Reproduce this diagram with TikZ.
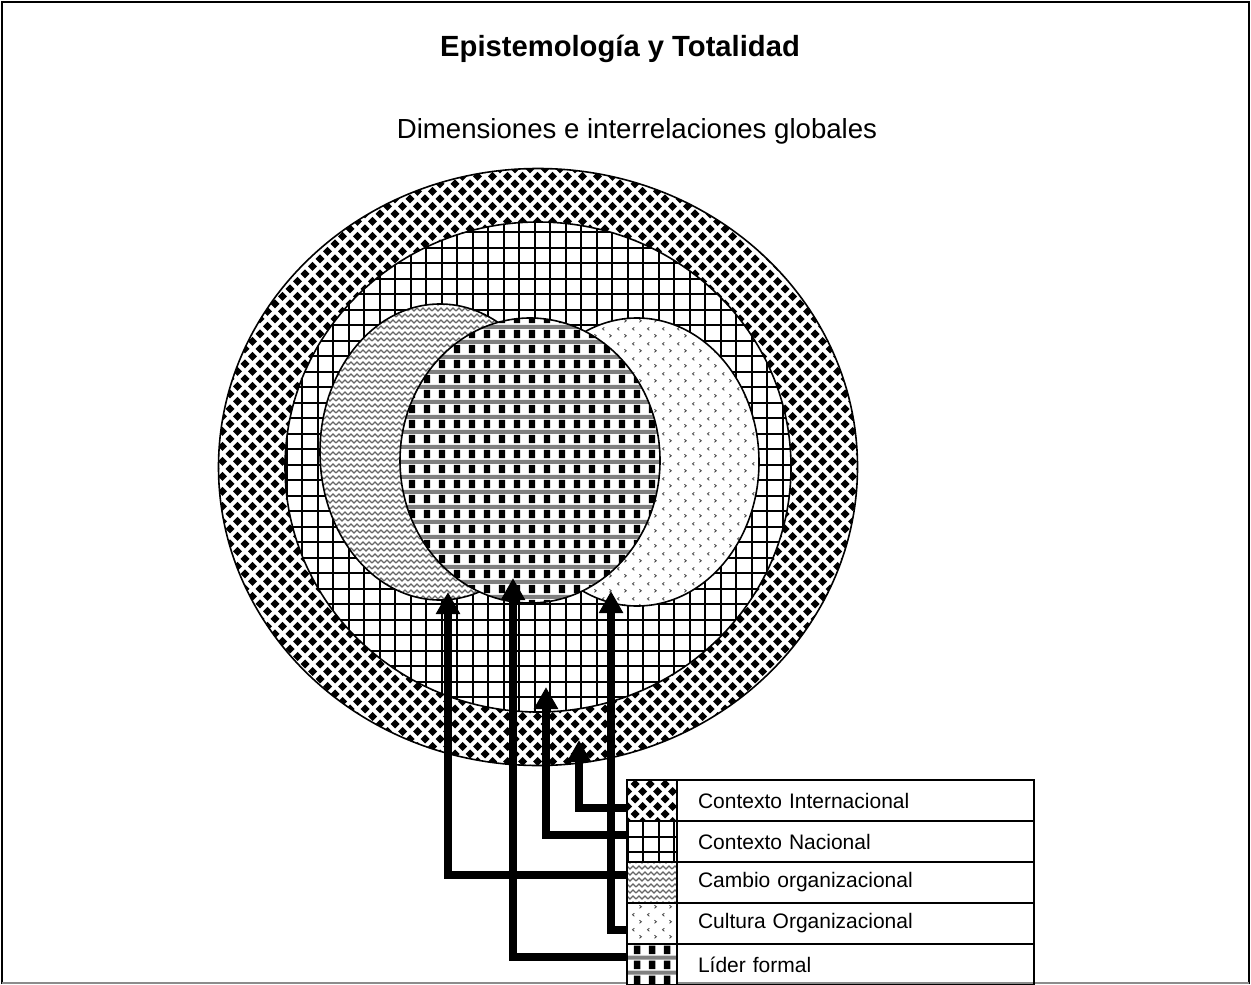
\documentclass[tikz,border=0pt]{standalone}
\usepackage{fontspec}
\setmainfont{Liberation Sans}
\usetikzlibrary{positioning, arrows.meta, patterns, shapes.geometric}

% fill patterns of the five dimensions
\pgfdeclarepatternformonly{intlpat}{\pgfpointorigin}{\pgfpoint{8.75pt}{8.75pt}}{\pgfpoint{7.5pt}{7.5pt}}{%
  \pgfpathmoveto{\pgfpoint{2.5pt}{0.25pt}}\pgfpathlineto{\pgfpoint{4.75pt}{2.5pt}}%
  \pgfpathlineto{\pgfpoint{2.5pt}{4.75pt}}\pgfpathlineto{\pgfpoint{0.25pt}{2.5pt}}\pgfpathclose
  \pgfpathmoveto{\pgfpoint{6.25pt}{4pt}}\pgfpathlineto{\pgfpoint{8.5pt}{6.25pt}}%
  \pgfpathlineto{\pgfpoint{6.25pt}{8.5pt}}\pgfpathlineto{\pgfpoint{4pt}{6.25pt}}\pgfpathclose
  \pgfusepath{fill}}
\pgfdeclarepatternformonly{nacpat}{\pgfpoint{-0.5pt}{-0.5pt}}{\pgfpoint{8.25pt}{8.25pt}}{\pgfpoint{7.75pt}{7.75pt}}{%
  \pgfsetlinewidth{0.9pt}
  \pgfpathmoveto{\pgfpoint{3.875pt}{-0.5pt}}\pgfpathlineto{\pgfpoint{3.875pt}{8.25pt}}
  \pgfpathmoveto{\pgfpoint{-0.5pt}{3.875pt}}\pgfpathlineto{\pgfpoint{8.25pt}{3.875pt}}
  \pgfusepath{stroke}}
\pgfdeclarepatterninherentlycolored{cambiopat}{\pgfpoint{-0.5pt}{-0.5pt}}{\pgfpoint{6.5pt}{3.5pt}}{\pgfpoint{6pt}{3pt}}{%
  \pgfsetstrokecolor{black!60}\pgfsetlinewidth{0.6pt}
  \pgfpathmoveto{\pgfpoint{0pt}{0.5pt}}\pgfpathlineto{\pgfpoint{1.5pt}{2pt}}
  \pgfpathlineto{\pgfpoint{3pt}{0.5pt}}\pgfpathlineto{\pgfpoint{4.5pt}{2pt}}
  \pgfpathlineto{\pgfpoint{6pt}{0.5pt}}
  \pgfusepath{stroke}}
\pgfdeclarepatterninherentlycolored{culturapat}{\pgfpointorigin}{\pgfpoint{7.5pt}{7.5pt}}{\pgfpoint{7.5pt}{7.5pt}}{%
  \pgfsetstrokecolor{black!70}\pgfsetlinewidth{0.45pt}
  \pgfpathmoveto{\pgfpoint{2.3pt}{6.2pt}}\pgfpathlineto{\pgfpoint{1.3pt}{5.4pt}}\pgfpathlineto{\pgfpoint{2.3pt}{4.6pt}}
  \pgfpathmoveto{\pgfpoint{5pt}{2.5pt}}\pgfpathlineto{\pgfpoint{6pt}{1.7pt}}\pgfpathlineto{\pgfpoint{5pt}{0.9pt}}
  \pgfusepath{stroke}}
\pgfdeclarepatterninherentlycolored{liderpat}{\pgfpointorigin}{\pgfpoint{7.5pt}{7.5pt}}{\pgfpoint{7.5pt}{7.5pt}}{%
  \pgfsetfillcolor{black!50}
  \pgfpathrectangle{\pgfpoint{0pt}{5.4pt}}{\pgfpoint{7.5pt}{2.1pt}}\pgfusepath{fill}
  \pgfsetfillcolor{black}
  \pgfpathrectangle{\pgfpoint{2pt}{0.5pt}}{\pgfpoint{3.4pt}{4.4pt}}\pgfusepath{fill}}

\begin{document}
\begin{tikzpicture}[x=0.5pt, y=-0.5pt,
    circ/.style={ellipse, inner sep=0pt, outer sep=0pt},
    intlfill/.style={draw, line width=0.8pt, preaction={fill=white}, pattern=intlpat},
    nacfill/.style={draw, line width=0.8pt, preaction={fill=white}, pattern=nacpat},
    cambiofill/.style={draw, line width=0.8pt, preaction={fill=white}, pattern=cambiopat},
    culturafill/.style={draw, line width=0.8pt, preaction={fill=white}, pattern=culturapat},
    liderfill/.style={draw, line width=0.8pt, preaction={fill=white}, pattern=liderpat},
    legbox/.style={draw, line width=0.8pt, minimum height=20.5pt, inner sep=0pt, outer sep=0pt,
      font=\fontsize{10.5}{12}\selectfont},
    swatch/.style={legbox, minimum width=25pt},
    leglabel/.style={legbox, text width=157.5pt, inner xsep=10.5pt, align=left},
    conn/.style={line width=3.6pt, -{Triangle[length=11pt, width=11.5pt]}}]
  \useasboundingbox (0,0) rectangle (1251,984);
  \draw[line width=1pt] (2,984) -- (2,2) -- (1249,2) -- (1249,984);
  \draw[black!45, line width=0.6pt] (2,983) -- (1249,983);

  \node[font=\fontsize{14.6}{17}\selectfont\bfseries, anchor=base] (title) at (620,57) {Epistemología y Totalidad};
  \node[font=\fontsize{13.8}{16}\selectfont, anchor=base] (subtitle) at (637,139) {Dimensiones e interrelaciones globales};

  \node[circ, intlfill, minimum width=319.5pt, minimum height=298.5pt] (intl) at (538,467) {};
  \node[circ, nacfill, minimum width=253pt, minimum height=245pt] (nacl) at (538,467) {};
  \node[circ, cambiofill, minimum width=120pt, minimum height=148pt] (cambio) at (440,452) {};
  \node[circ, culturafill, minimum width=122pt, minimum height=144pt] (cultura) at (637,462) {};
  \node[circ, liderfill, minimum width=130pt, minimum height=142.5pt] (lider) at (530,460.5) {};

  % legend
  \node[swatch, intlfill] (s1) at (652,800.5) {};
  \node[swatch, nacfill, below=0pt of s1] (s2) {};
  \node[swatch, cambiofill, below=0pt of s2] (s3) {};
  \node[swatch, culturafill, below=0pt of s3] (s4) {};
  \node[swatch, liderfill, below=0pt of s4] (s5) {};
  \node[leglabel, right=0pt of s1] (l1) {Contexto Internacional};
  \node[leglabel, right=0pt of s2] (l2) {Contexto Nacional};
  \node[leglabel, right=0pt of s3] (l3) {Cambio organizacional};
  \node[leglabel, right=0pt of s4] (l4) {Cultura Organizacional};
  \node[leglabel, right=0pt of s5] (l5) {Líder formal};

  \coordinate (tipint) at (579,740);
  \coordinate (tipnac) at (546,687);
  \coordinate (tipcam) at (448,592);
  \coordinate (tipcul) at (611,591);
  \coordinate (tiplid) at (513,578);
  \draw[conn] (s1.west |- 0,808) -| (tipint);
  \draw[conn] (s2.west |- 0,835) -| (tipnac);
  \draw[conn] (s3.west |- 0,875) -| (tipcam);
  \draw[conn] (s4.west |- 0,930) -| (tipcul);
  \draw[conn] (s5.west |- 0,957) -| (tiplid);
\end{tikzpicture}
\end{document}
